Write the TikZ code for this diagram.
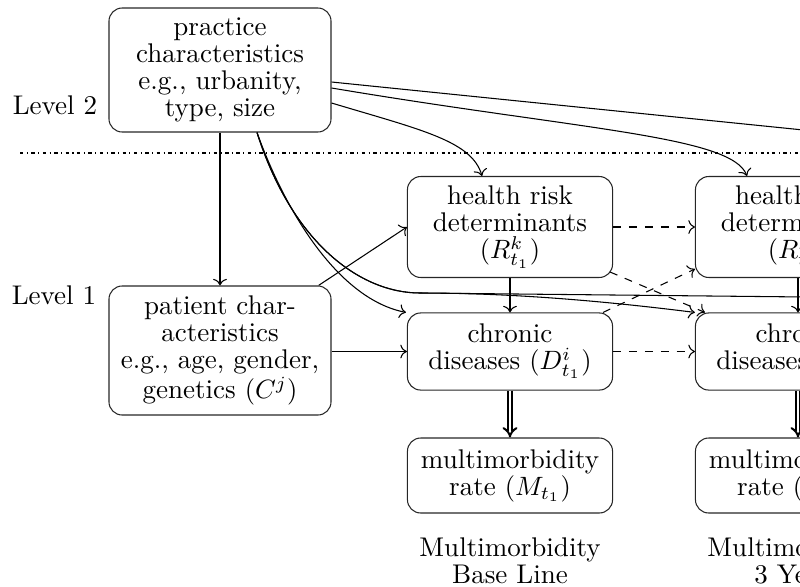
\documentclass[tikz,border=0pt]{standalone}
\usetikzlibrary{arrows.meta,calc}
\begin{document}
\begin{tikzpicture}[x=0.3774pt, y=-0.3774pt,
  txt/.style={font=\fontsize{10.2pt}{10.2pt}\selectfont, align=center, inner sep=0pt},
  box/.style={txt, draw=black!85, rounded corners=5pt},
  wbox/.style={box, minimum width=83.8pt},
  cbox/.style={box, minimum width=77.4pt},
  arr/.style={->, black},
  dasharr/.style={->, dashed, black},
  dbl/.style={-{Implies}, double, double distance=1.1pt, line width=0.75pt},
  sep/.style={dash pattern=on 1.3pt off 1.3pt on 0.4pt off 1.3pt}]
\useasboundingbox (0,0) rectangle (800,586);
\clip (0,0) rectangle (800,586);

% level labels and separator
\node[txt] (lv2) at (55,105) {Level 2};
\node[txt] (lv1) at (54,295) {Level 1};
\coordinate (sepl) at (20,153);
\coordinate (sepr) at (830,153);
\draw[sep] (sepl) -- (sepr);

% level 2: practice
\node[wbox, minimum height=46.8pt] (pc) at (220,70)
  {practice\\characteristics\\e.g., urbanity,\\type, size};

% level 1: patient
\node[wbox, minimum height=48.7pt] (pt) at (220,350.5)
  {patient char-\\acteristics\\e.g., age, gender,\\genetics $(C^j)$};

% first time point
\node[cbox, minimum height=38.1pt] (hr1) at (510,227)
  {health risk\\determinants\\$(R^k_{t_1})$};
\node[cbox, minimum height=29.1pt] (cd1) at (510,351.5)
  {chronic\\diseases $(D^i_{t_1})$};
\node[cbox, minimum height=28.3pt] (mr1) at (510,475.5)
  {multimorbidity\\rate $(M_{t_1})$};
\node[txt] (cap1) at (510,561) {Multimorbidity\\Base Line};

% second time point
\node[cbox, minimum height=38.1pt] (hr2) at (798,227)
  {health risk\\determinants\\$(R^k_{t_2})$};
\node[cbox, minimum height=29.1pt] (cd2) at (798,351.5)
  {chronic\\diseases $(D^i_{t_2})$};
\node[cbox, minimum height=28.3pt] (mr2) at (798,475.5)
  {multimorbidity\\rate $(M_{t_2})$};
\node[txt] (cap2) at (798,561) {Multimorbidity\\3 Years};

% ends of the connectors that run on to the next time point
\coordinate (hrn) at (1000,150);
\coordinate (cdn) at (1000,299);
\coordinate (bend) at (420,293);

% practice characteristics
\draw[arr] (pc.south) -- (pt.north);
\draw[arr] ($(pc.east)+(0,33)$) .. controls +(90,27) and +(-10,-35) .. ($(hr1.north)+(-28,0)$);
\draw[arr] ($(pc.east)+(0,18)$) .. controls +(250,42) and +(-15,-40) .. ($(hr2.north)+(-51,0)$);
\draw ($(pc.east)+(0,12)$) -- (hrn);
\draw[arr] ($(pc.south)+(37,0)$) .. controls +(30,83) and +(-66,-13) .. ($(cd1.north west)+(-1,0)$);
\draw[arr] ($(pc.south)+(37,0)$) .. controls +(35,110) and +(-60,0) .. (bend)
  .. controls +(100,0) and +(-80,-10) .. (cd2.north west);
\draw ($(pc.south)+(37,0)$) .. controls +(35,110) and +(-60,0) .. (bend) -- (cdn);

% patient characteristics
\draw[arr] ($(pt.north east)+(-13,0)$) -- (hr1.west);
\draw[arr] (pt.east |- cd1.west) -- (cd1.west);

% within and across time points
\draw[arr] (hr1.south) -- (cd1.north);
\draw[arr] (hr2.south) -- (cd2.north);
\draw[dasharr] (hr1.east) -- (hr2.west);
\draw[dasharr] (cd1.east) -- (cd2.west);
\draw[dasharr] ($(hr1.south east)+(-3,-6)$) -- ($(cd2.north west)+(10,0)$);
\draw[dasharr] ($(cd1.north east)+(-10,0)$) -- ($(hr2.south west)+(0,-9)$);
\draw[dbl] (cd1.south) -- (mr1.north);
\draw[dbl] (cd2.south) -- (mr2.north);
\end{tikzpicture}
\end{document}
